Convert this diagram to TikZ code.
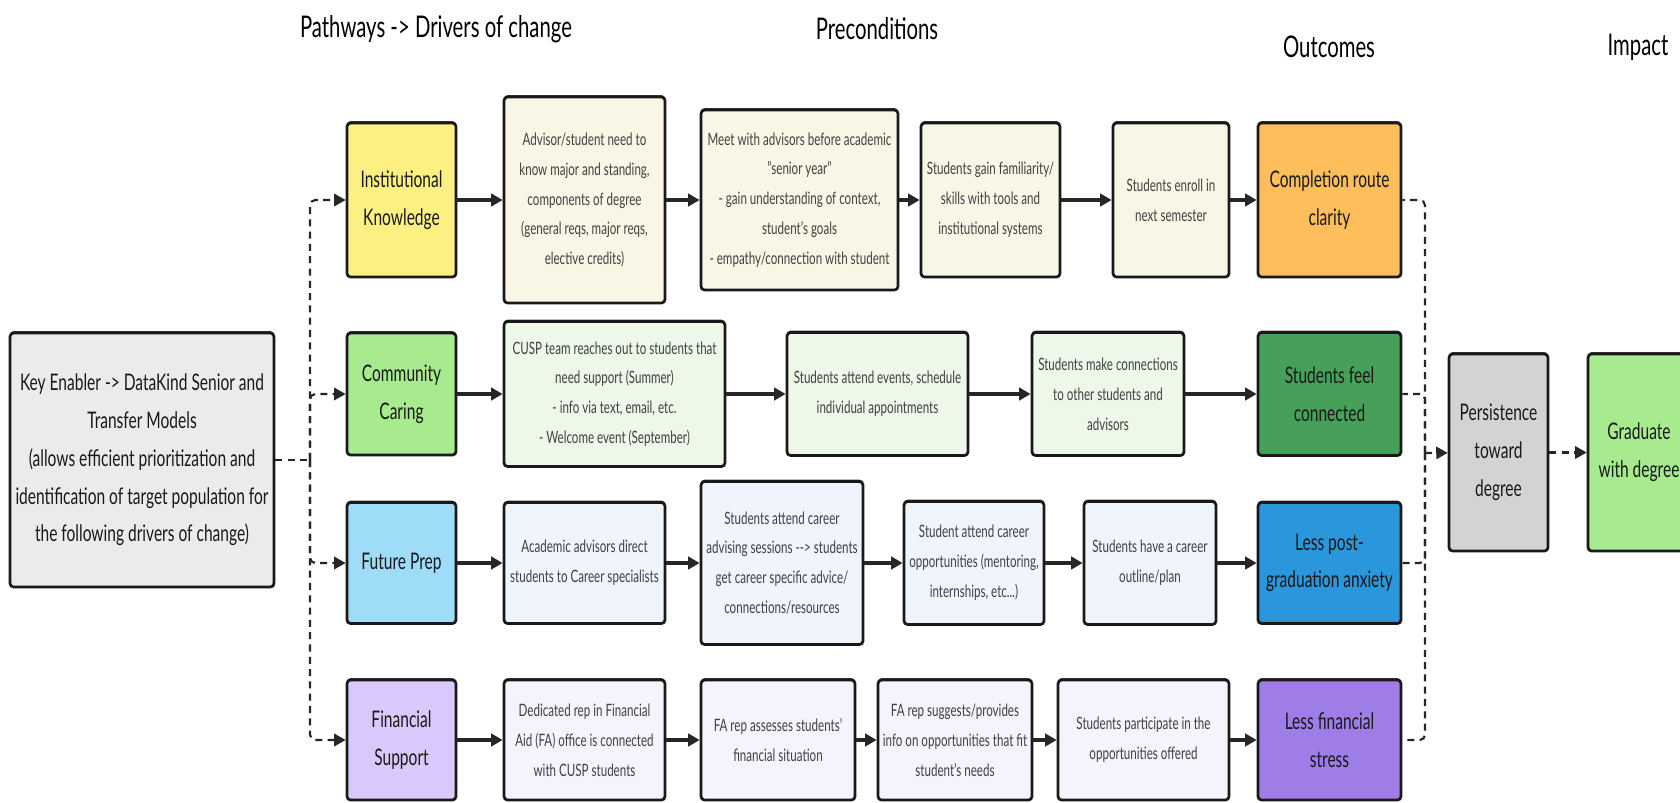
\documentclass[tikz,border=0pt]{standalone}
\usepackage{fontspec}
\setmainfont{Lato}[FakeStretch=0.68]
\usetikzlibrary{arrows.meta,shadows}
\definecolor{keygray}{HTML}{EBEBEB}
\definecolor{knowyellow}{HTML}{FDF082}
\definecolor{knowcream}{HTML}{FAF6E6}
\definecolor{clarityorange}{HTML}{FFBE5C}
\definecolor{caregreen}{HTML}{A8EB8F}
\definecolor{carepale}{HTML}{EEF8E8}
\definecolor{connectgreen}{HTML}{46A05A}
\definecolor{prepblue}{HTML}{9EDCF7}
\definecolor{preppale}{HTML}{F0F5FD}
\definecolor{anxietyblue}{HTML}{2A97DC}
\definecolor{fundlilac}{HTML}{D8C8FC}
\definecolor{fundpale}{HTML}{F5F4FD}
\definecolor{stresspurple}{HTML}{9F7DE6}
\definecolor{persistgray}{HTML}{D3D3D3}

\begin{document}
\begin{tikzpicture}[x=0.02cm,y=-0.02cm,
  box/.style={draw=black!90,line width=1.55pt,rounded corners=2pt,align=center,inner sep=2pt,
    drop shadow={shadow xshift=0pt,shadow yshift=1.1pt,opacity=0.9,fill=black!85}},
  sz/.style 2 args={minimum width=#1cm,minimum height=#2cm},
  bigbox/.style={box,text=black!90,font=\fontsize{13}{21.5}\selectfont},
  stepbox/.style={box,text=black!75,font=\fontsize{9.7}{17}\selectfont},
  head/.style={font=\fontsize{17}{20}\selectfont},
  flow/.style={line width=1.9pt,draw=black!85,-{Triangle[length=6.5pt,width=7pt]}},
  link/.style={line width=1.2pt,draw=black!85,dash pattern=on 4pt off 3pt,rounded corners=3pt},
  linkto/.style={link,-{Triangle[length=6.5pt,width=7pt]}}]
  \useasboundingbox (0,0) rectangle (1680,802);

  % column headings
  \node[head] (hdrive) at (436,29) {Pathways -> Drivers of change};
  \node[head] (hpre) at (877,29) {Preconditions};
  \node[head] (hout) at (1329,47) {Outcomes};
  \node[head] (himp) at (1638,47) {Impact};

  % key enabler
  \node[bigbox,fill=keygray,sz={5.28}{5.08}] (key) at (142,460)
    {Key Enabler -> DataKind Senior and\\Transfer Models\\(allows efficient prioritization and\\identification of target population for\\the following drivers of change)};

  % institutional knowledge
  \node[bigbox,fill=knowyellow,sz={2.18}{3.08}] (ik) at (401.5,200) {Institutional\\Knowledge};
  \node[stepbox,fill=knowcream,sz={3.22}{4.12}] (adv) at (584.5,200)
    {Advisor/student need to\\know major and standing,\\components of degree\\(general reqs, major reqs,\\elective credits)};
  \node[stepbox,fill=knowcream,sz={3.94}{3.6}] (meet) at (799.5,200)
    {Meet with advisors before academic\\"senior year"\\- gain understanding of context,\\student's goals\\- empathy/connection with student};
  \node[stepbox,fill=knowcream,sz={2.78}{3.08}] (fam) at (990.5,200)
    {Students gain familiarity/\\skills with tools and\\institutional systems};
  \node[stepbox,fill=knowcream,sz={2.32}{3.08}] (enroll) at (1171,200)
    {Students enroll in\\next semester};
  \node[bigbox,fill=clarityorange,sz={2.86}{3.08}] (comp) at (1329.5,200)
    {Completion route\\clarity};

  % community caring
  \node[bigbox,fill=caregreen,sz={2.18}{2.44}] (cc) at (401.5,394) {Community\\Caring};
  \node[stepbox,fill=carepale,sz={4.42}{2.9}] (cusp) at (614.5,394)
    {CUSP team reaches out to students that\\need support (Summer)\\- info via text, email, etc.\\- Welcome event (September)};
  \node[stepbox,fill=carepale,sz={3.62}{2.46}] (events) at (877.5,394)
    {Students attend events, schedule\\individual appointments};
  \node[stepbox,fill=carepale,sz={3.04}{2.46}] (conn) at (1108,394)
    {Students make connections\\to other students and\\advisors};
  \node[bigbox,fill=connectgreen,sz={2.86}{2.46}] (feel) at (1329.5,394)
    {Students feel\\connected};

  % future prep
  \node[bigbox,fill=prepblue,sz={2.18}{2.42}] (fp) at (401.5,563) {Future Prep};
  \node[stepbox,fill=preppale,sz={3.22}{2.42}] (acadv) at (584.5,563)
    {Academic advisors direct\\students to Career specialists};
  \node[stepbox,fill=preppale,sz={3.24}{3.26}] (career) at (782,563)
    {Students attend career\\advising sessions -{}-{}> students\\get career specific advice/\\connections/resources};
  \node[stepbox,fill=preppale,sz={2.8}{2.46}] (opp) at (974,563)
    {Student attend career\\opportunities (mentoring,\\internships, etc...)};
  \node[stepbox,fill=preppale,sz={2.64}{2.46}] (outline) at (1150,563)
    {Students have a career\\outline/plan};
  \node[bigbox,fill=anxietyblue,sz={2.86}{2.42}] (anx) at (1329.5,563)
    {Less post-\\graduation anxiety};

  % financial support
  \node[bigbox,fill=fundlilac,sz={2.18}{2.4}] (fs) at (401.5,740) {Financial\\Support};
  \node[stepbox,fill=fundpale,sz={3.22}{2.4}] (ded) at (584.5,740)
    {Dedicated rep in Financial\\Aid (FA) office is connected\\with CUSP students};
  \node[stepbox,fill=fundpale,sz={3.08}{2.4}] (assess) at (778,740)
    {FA rep assesses students'\\financial situation};
  \node[stepbox,fill=fundpale,sz={3.08}{2.4}] (sugg) at (955,740)
    {FA rep suggests/provides\\info on opportunities that fit\\student's needs};
  \node[stepbox,fill=fundpale,sz={3.42}{2.4}] (part) at (1143.5,740)
    {Students participate in the\\opportunities offered};
  \node[bigbox,fill=stresspurple,sz={2.86}{2.4}] (stress) at (1329.5,740)
    {Less financial\\stress};

  % persistence and impact
  \node[bigbox,fill=persistgray,sz={1.98}{3.94}] (pers) at (1498.5,452.5) {Persistence\\toward\\degree};
  \node[bigbox,fill=caregreen,sz={2.04}{3.94}] (grad) at (1639,452.5) {Graduate\\with degree};

  % solid chains along each row
  \draw[flow] (ik) -- (adv);
  \draw[flow] (adv) -- (meet);
  \draw[flow] (meet) -- (fam);
  \draw[flow] (fam) -- (enroll);
  \draw[flow] (enroll) -- (comp);
  \draw[flow] (cc) -- (cusp);
  \draw[flow] (cusp) -- (events);
  \draw[flow] (events) -- (conn);
  \draw[flow] (conn) -- (feel);
  \draw[flow] (fp) -- (acadv);
  \draw[flow] (acadv) -- (career);
  \draw[flow] (career) -- (opp);
  \draw[flow] (opp) -- (outline);
  \draw[flow] (outline) -- (anx);
  \draw[flow] (fs) -- (ded);
  \draw[flow] (ded) -- (assess);
  \draw[flow] (assess) -- (sugg);
  \draw[flow] (sugg) -- (part);
  \draw[flow] (part) -- (stress);

  % enabler fans out to the drivers
  \coordinate (lsplit) at (310,460);
  \draw[link] (key) -- (lsplit);
  \foreach \d in {ik,cc,fp,fs}
    \draw[linkto] (lsplit) |- (\d);

  % outcomes gather into persistence
  \coordinate (rmerge) at (1425,453);
  \foreach \o in {comp,feel,anx,stress}
    \draw[link] (rmerge) |- (\o);
  \draw[linkto] (rmerge) -- (pers);
  \draw[linkto] (pers) -- (grad);
\end{tikzpicture}
\end{document}
